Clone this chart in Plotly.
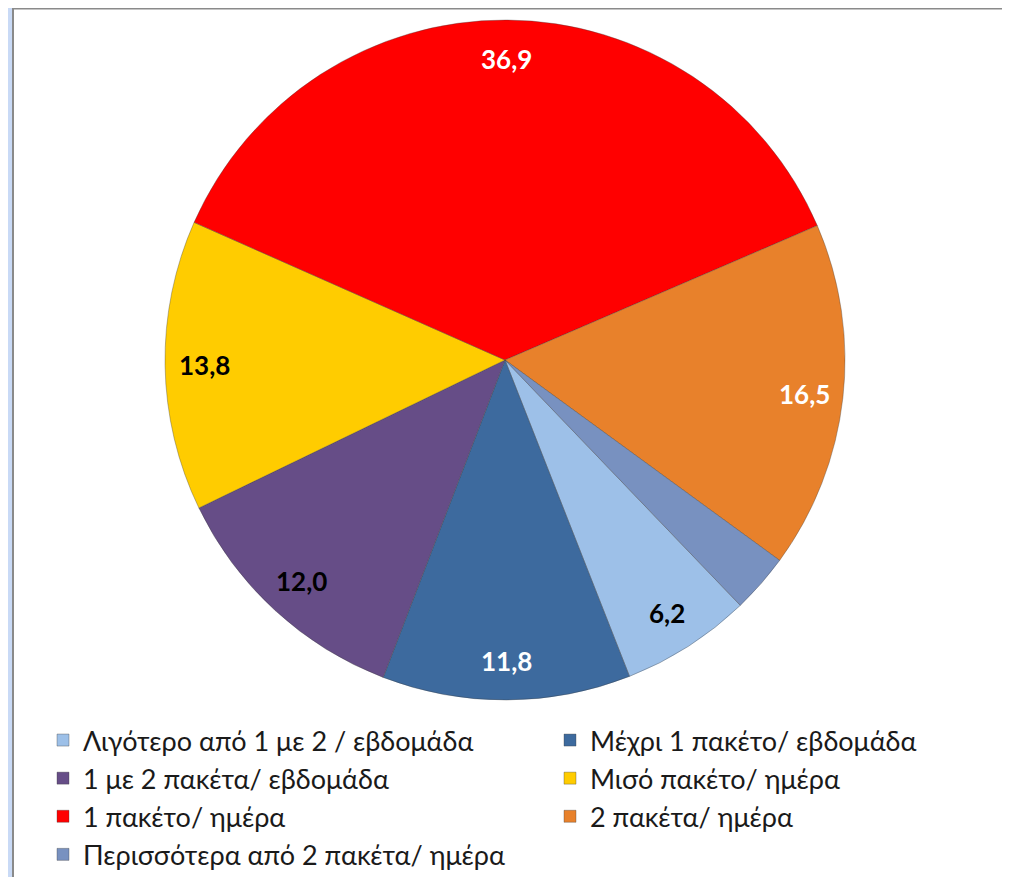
import numpy as np
import plotly.graph_objects as go

# Δεδομένα
labels = ["Λιγότερο από 1 με 2 / εβδομάδα", "Μέχρι 1 πακέτο/ εβδομάδα",
          "1 με 2 πακέτα/ εβδομάδα", "Μισό πακέτο/ ημέρα", "1 πακέτο/ ημέρα",
          "2 πακέτα/ ημέρα", "Περισσότερα από 2 πακέτα/ ημέρα"]
values = [6.2, 11.8, 12.0, 13.8, 36.9, 16.5, 2.8]
show_label = [True, True, True, True, True, True, False]
colors = ["#9DC0E8", "#3D6A9E", "#664D87", "#FFCC00", "#FF0000", "#E8812B", "#7891C0"]
text_colors = ["black", "white", "black", "black", "white", "white", "black"]

# η σελίδα έχει 8px περιθώριο, οπότε όλα μετακινούνται κατά 8px
W, H = 1070, 877
rotation = 136.2
cx, cy, R = 497, 352, 340

fig = go.Figure(go.Pie(
    labels=labels, values=values, sort=False, direction="clockwise",
    rotation=rotation, textinfo="none", hoverinfo="label+value",
    marker=dict(colors=colors, line=dict(color="rgba(60,60,60,0.35)", width=1)),
    domain=dict(x=[(cx - R) / W, (cx + R) / W], y=[(H - cy - R) / H, (H - cy + R) / H]),
))

# ετικέτες κοντά στην άκρη του κάθε τμήματος
total = sum(values)
start = rotation
for v, show, tc in zip(values, show_label, text_colors):
    mid = np.radians(start + v / total * 180)
    start += v / total * 360
    if not show:
        continue
    px_ = cx + 0.885 * R * np.sin(mid)
    py_ = cy - 0.885 * R * np.cos(mid)
    fig.add_annotation(x=px_ / W, y=1 - py_ / H, xref="paper", yref="paper",
                       xanchor="center", yanchor="middle",
                       text="<b>" + f"{v:.1f}".replace(".", ",") + "</b>",
                       showarrow=False, font=dict(family="Lato", size=26, color=tc))

# πλαίσιο παραθύρου
fig.add_shape(type="rect", xref="paper", yref="paper", x0=0, x1=4 / W, y0=0, y1=1,
              fillcolor="#C9DAF6", line_width=0, layer="below")
fig.add_shape(type="line", xref="paper", yref="paper", x0=5 / W, x1=1, y0=1 - 0.5 / H, y1=1 - 0.5 / H,
              line=dict(color="#8A8A8A", width=2), layer="below")
fig.add_shape(type="line", xref="paper", yref="paper", x0=5 / W, x1=5 / W, y0=0, y1=1,
              line=dict(color="#8A8A8A", width=2), layer="below")

fig.update_layout(
    width=W, height=H,
    margin=dict(l=0, r=0, t=0, b=0),
    paper_bgcolor="white",
    font=dict(family="Lato", color="#1a1a1a"),
    legend=dict(orientation="h", x=35 / W, xanchor="left", y=1 - 708 / H, yanchor="top",
                entrywidth=462, entrywidthmode="pixels", traceorder="normal",
                font=dict(family="Lato", size=27, color="#1a1a1a")),
)

fig.write_html("out.html")
